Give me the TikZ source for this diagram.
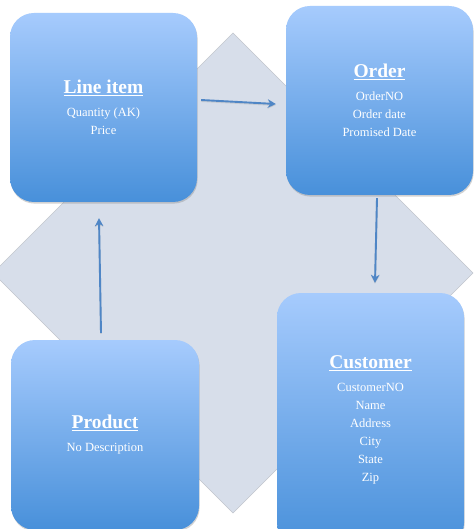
\documentclass[tikz,border=0pt]{standalone}
\usepackage{fontspec}
\setmainfont{Liberation Serif}
\usetikzlibrary{shadows,arrows.meta}
\definecolor{boxtop}{HTML}{A6CBFD}
\definecolor{boxbot}{HTML}{4890DA}
\definecolor{diafill}{HTML}{D7DEEA}
\definecolor{diaedge}{HTML}{C2C6CE}
\definecolor{arrowc}{HTML}{4F86C6}
\tikzset{
  entity/.style={rectangle, rounded corners=24pt, top color=boxtop, bottom color=boxbot,
    draw=none, text=white, align=center, inner sep=0pt,
    font=\fontsize{12.5}{18}\selectfont,
    drop shadow={opacity=0.35, shadow xshift=0.6pt, shadow yshift=-1.6pt}},
  conn/.style={draw=arrowc, line width=1.9pt, -{Stealth[length=8pt,width=8.5pt,inset=2.5pt]},
    preaction={draw=black!35, line width=1.9pt, opacity=0.35, transform canvas={yshift=-1pt}}},
}
\newcommand{\enttitle}[1]{{\fontsize{19.5}{18}\selectfont\bfseries\underline{#1}}\\[5pt]}
\begin{document}
\begin{tikzpicture}[x=1pt,y=-1pt]
\useasboundingbox (0,0) rectangle (474,529);
\clip (0,0) rectangle (474,529);
\fill[white] (0,0) rectangle (474,529);
% background diamond
\filldraw[fill=diafill, draw=diaedge, line width=0.6pt]
  (233,33) -- (473,273) -- (233,513) -- (-7,273) -- cycle;
% entities
\node[entity, minimum width=187pt, minimum height=189pt] (li) at (103.5,107.5)
  {\enttitle{Line item}Quantity (AK)\\Price};
\node[entity, minimum width=187pt, minimum height=189pt] (ord) at (379.5,100.5)
  {\enttitle{Order}OrderNO\\Order date\\Promised Date};
\node[entity, minimum width=188pt, minimum height=190pt] (prod) at (105,435)
  {\enttitle{Product}No Description};
\node[entity, minimum width=187pt, minimum height=254pt] (cust) at (370.5,420)
  {\enttitle{Customer}CustomerNO\\Name\\Address\\City\\State\\Zip};
% connectors
\draw[conn] ([shift={(4,-7.5)}]li.east) -- ([shift={(-10,3.5)}]ord.west);
\draw[conn] ([shift={(-2.5,3)}]ord.south) -- ([shift={(4.5,-10)}]cust.north);
\draw[conn] ([shift={(-4,-7)}]prod.north) -- ([shift={(-4.5,16)}]li.south);
\end{tikzpicture}
\end{document}
